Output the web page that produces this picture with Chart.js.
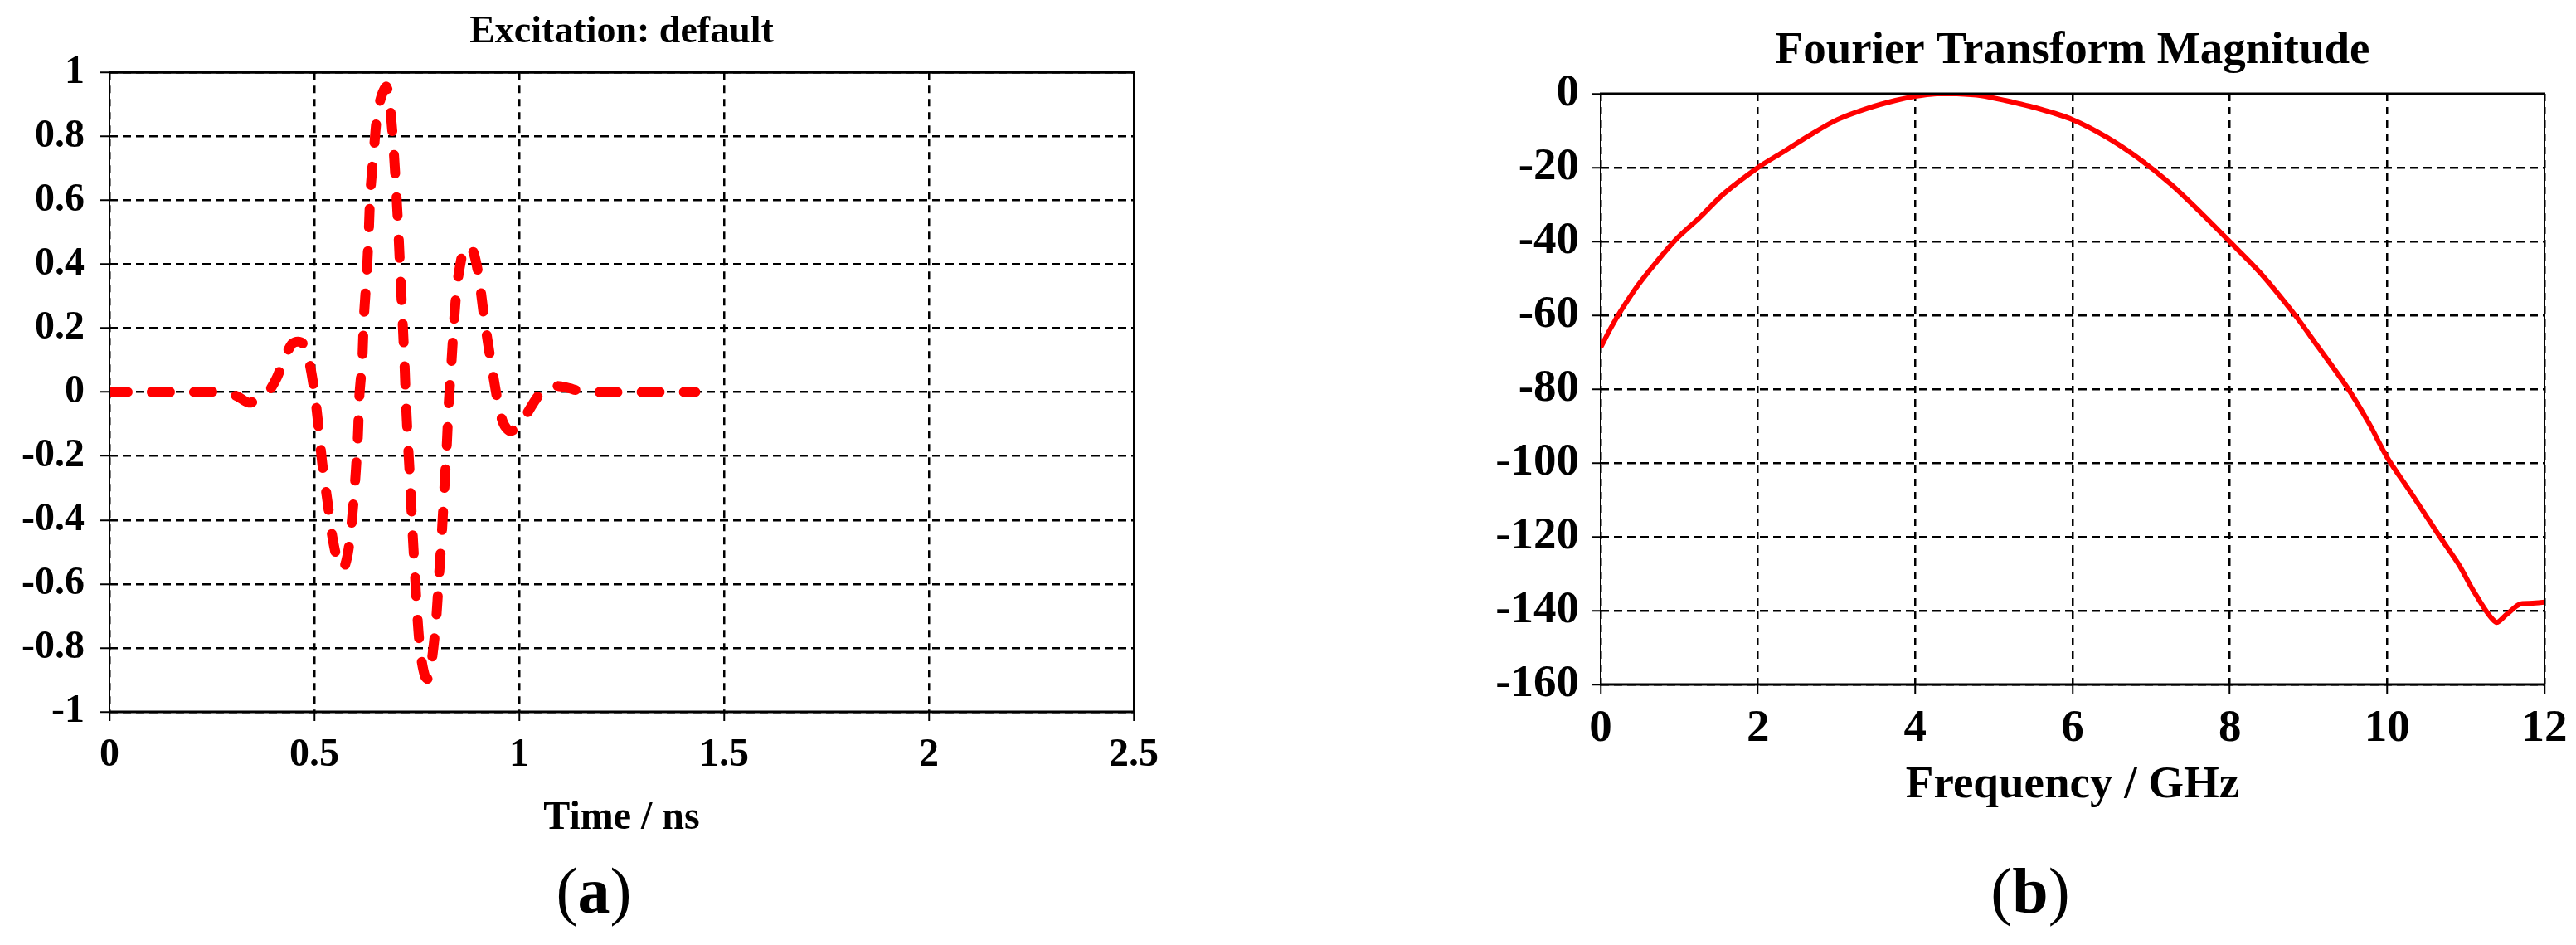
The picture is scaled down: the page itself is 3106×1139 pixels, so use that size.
<!DOCTYPE html>
<html>
<head>
<meta charset="utf-8">
<script src="https://cdn.jsdelivr.net/npm/chart.js@4/dist/chart.umd.min.js"></script>
<style>
  body { margin: 0; background: #fff; width: 3106px; height: 1139px; position: relative; overflow: hidden; }
  canvas { position: absolute; top: 0; }
  #chartA { left: 0; }
  #chartB { left: 1740px; }
  .sub { position: absolute; top: 1035px; font-family: "Liberation Serif", serif; font-size: 78px; line-height: 1; transform: translateX(-50%); color: #000; }
</style>
</head>
<body>
<canvas id="chartA" width="1420" height="1030"></canvas>
<canvas id="chartB" width="1366" height="1030"></canvas>
<div class="sub" style="left:716px">(<b>a</b>)</div>
<div class="sub" style="left:2448px">(<b>b</b>)</div>
<script>
// (a) excitation pulse
const timeNs = [0, 0.1, 0.2, 0.276, 0.31, 0.34, 0.365, 0.385, 0.408, 0.427, 0.445, 0.46, 0.473, 0.487,
  0.50, 0.51, 0.52, 0.533, 0.545, 0.561, 0.572, 0.584, 0.596, 0.606, 0.610, 0.617, 0.621, 0.628,
  0.633, 0.637, 0.645, 0.654, 0.665, 0.676, 0.683, 0.691, 0.698, 0.704, 0.709, 0.714, 0.719, 0.723,
  0.728, 0.734, 0.739, 0.745, 0.751, 0.759, 0.770, 0.779, 0.788, 0.797, 0.804, 0.811, 0.817, 0.823,
  0.828, 0.835, 0.841, 0.848, 0.856, 0.865, 0.878, 0.890, 0.902, 0.913, 0.924, 0.936, 0.949, 0.962,
  0.978, 0.997, 1.020, 1.043, 1.066, 1.094, 1.122, 1.150, 1.2, 1.3, 1.43];
const excitation = [0, 0, 0, 0, -0.012, -0.033, -0.022, -0.005, 0.044, 0.105, 0.150, 0.158, 0.150, 0.098,
  0.003, -0.106, -0.23, -0.35, -0.46, -0.545, -0.55, -0.487, -0.338, -0.147, -0.011, 0.098, 0.234, 0.370,
  0.506, 0.629, 0.751, 0.873, 0.93, 0.955, 0.91, 0.805, 0.669, 0.533, 0.397, 0.261, 0.125, -0.011,
  -0.147, -0.283, -0.419, -0.555, -0.691, -0.814, -0.888, -0.897, -0.827, -0.718, -0.582, -0.446, -0.310, -0.174,
  -0.038, 0.098, 0.220, 0.329, 0.397, 0.445, 0.459, 0.431, 0.356, 0.248, 0.152, 0.057, -0.038, -0.099,
  -0.122, -0.106, -0.065, -0.018, 0.014, 0.019, 0.012, 0.003, 0, 0, 0];
const timeTicks = [0, 0.5, 1, 1.5, 2, 2.5];
const excitationTicks = [-1, -0.8, -0.6, -0.4, -0.2, 0, 0.2, 0.4, 0.6, 0.8, 1];

// (b) spectrum in dB
const freqGHz = [0, 0.13, 0.26, 0.48, 0.70, 0.96, 1.26, 1.57, 2.0, 2.31, 2.66, 3.01, 3.40, 3.75, 4.0,
  4.27, 4.53, 4.84, 5.14, 5.58, 6.0, 6.43, 6.84, 7.25, 7.65, 8.0, 8.39, 8.83, 9.12, 9.49, 9.77, 10.0,
  10.3, 10.67, 10.91, 11.11, 11.38, 11.52, 11.68, 11.85, 12.0];
const magnitudeDb = [-68.7, -63.4, -58.7, -51.7, -45.8, -39.4, -33.5, -27.0, -20.0, -15.9, -11.2, -7.0, -3.9, -1.8, -0.7,
  0, 0, -0.5, -1.8, -4.1, -7.0, -11.7, -17.5, -24.5, -32.6, -40.1, -48.6, -60.0, -68.5, -79.5, -89.3, -98.5,
  -108.0, -120.0, -127.5, -135.1, -143.1, -141.0, -138.3, -138.0, -137.7];
const freqTicks = [0, 2, 4, 6, 8, 10, 12];
const dbTicks = [-160, -140, -120, -100, -80, -60, -40, -20, 0];

const FONT = '"Liberation Serif", "Times New Roman", serif';

// solid frame round the plot area
const frame = {
  id: 'frame',
  afterDraw(chart) {
    const {ctx, chartArea: a} = chart;
    ctx.save();
    ctx.strokeStyle = '#000';
    ctx.lineWidth = 2;
    ctx.beginPath();
    ctx.moveTo(a.left, a.top); ctx.lineTo(a.left, a.bottom);
    ctx.moveTo(a.right, a.top); ctx.lineTo(a.right, a.bottom);
    ctx.stroke();
    ctx.lineWidth = 3;
    ctx.beginPath();
    ctx.moveTo(a.left - 1, a.top); ctx.lineTo(a.right + 1, a.top);
    ctx.moveTo(a.left - 1, a.bottom); ctx.lineTo(a.right + 1, a.bottom);
    ctx.stroke();
    ctx.restore();
  }
};

function gridOpts() {
  return {
    color: '#000', lineWidth: 2.5,
    drawTicks: true, tickLength: 11, tickColor: '#000', tickWidth: 2, tickBorderDash: []
  };
}

function makeChart(id, cfg) {
  const xVals = cfg.xTicks, yVals = cfg.yTicks;
  return new Chart(document.getElementById(id), {
    type: 'line',
    data: {
      datasets: [{
        data: cfg.xs.map((x, i) => ({x: x, y: cfg.ys[i]})),
        borderColor: '#ff0000',
        borderWidth: cfg.lineWidth,
        borderDash: cfg.dash,
        borderCapStyle: cfg.dash.length ? 'round' : 'butt',
        pointRadius: 0,
        tension: 0.3,
        fill: false
      }]
    },
    options: {
      responsive: false,
      animation: false,
      devicePixelRatio: 1,
      layout: {padding: {left: 0, right: cfg.padRight, top: 0, bottom: 0}},
      plugins: {
        legend: {display: false},
        tooltip: {enabled: false},
        title: {
          display: true, text: cfg.title, fullSize: false, color: '#000',
          font: {family: FONT, size: cfg.titleSize, weight: 'bold'},
          padding: cfg.titlePad
        }
      },
      scales: {
        x: {
          type: 'linear', min: xVals[0], max: xVals[xVals.length - 1],
          afterBuildTicks: s => { s.ticks = xVals.map(v => ({value: v})); },
          afterFit: s => { s.height = cfg.xAxisHeight; s.paddingLeft = 0; s.paddingRight = 0; },
          border: {display: false, dash: [9, 7]},
          grid: gridOpts(),
          ticks: {color: '#000', font: {family: FONT, size: cfg.tickSize, weight: 'bold'}, padding: cfg.xTickPad,
            maxRotation: 0, autoSkip: false, callback: v => String(v)},
          title: {
            display: true, text: cfg.xTitle, color: '#000',
            font: {family: FONT, size: cfg.xTitleSize, weight: 'bold'},
            padding: {top: 0, bottom: cfg.xTitlePad}
          }
        },
        y: {
          type: 'linear', min: yVals[0], max: yVals[yVals.length - 1],
          afterBuildTicks: s => { s.ticks = yVals.map(v => ({value: v})); },
          afterFit: s => { s.width = cfg.yAxisWidth; s.paddingTop = 0; s.paddingBottom = 0; },
          border: {display: false, dash: [10, 6]},
          grid: gridOpts(),
          ticks: {color: '#000', font: {family: FONT, size: cfg.tickSize, weight: 'bold'}, padding: cfg.yTickPad,
            callback: v => String(v)}
        }
      }
    },
    plugins: [frame]
  });
}

makeChart('chartA', {
  xs: timeNs, ys: excitation, xTicks: timeTicks, yTicks: excitationTicks,
  lineWidth: 12, dash: [22, 29],
  title: 'Excitation: default', titleSize: 46, titlePad: {top: 12, bottom: 20},
  xTitle: 'Time / ns', xTitleSize: 48, xTitlePad: 15,
  tickSize: 48, xTickPad: 13, yTickPad: 19,
  padRight: 53, yAxisWidth: 132, xAxisHeight: 172
});

makeChart('chartB', {
  xs: freqGHz, ys: magnitudeDb, xTicks: freqTicks, yTicks: dbTicks,
  lineWidth: 6, dash: [],
  title: 'Fourier Transform Magnitude', titleSize: 55, titlePad: {top: 29, bottom: 18},
  xTitle: 'Frequency / GHz', xTitleSize: 55, xTitlePad: 50,
  tickSize: 55, xTickPad: 10, yTickPad: 15,
  padRight: 38, yAxisWidth: 190, xAxisHeight: 205
});
</script>
</body>
</html>
